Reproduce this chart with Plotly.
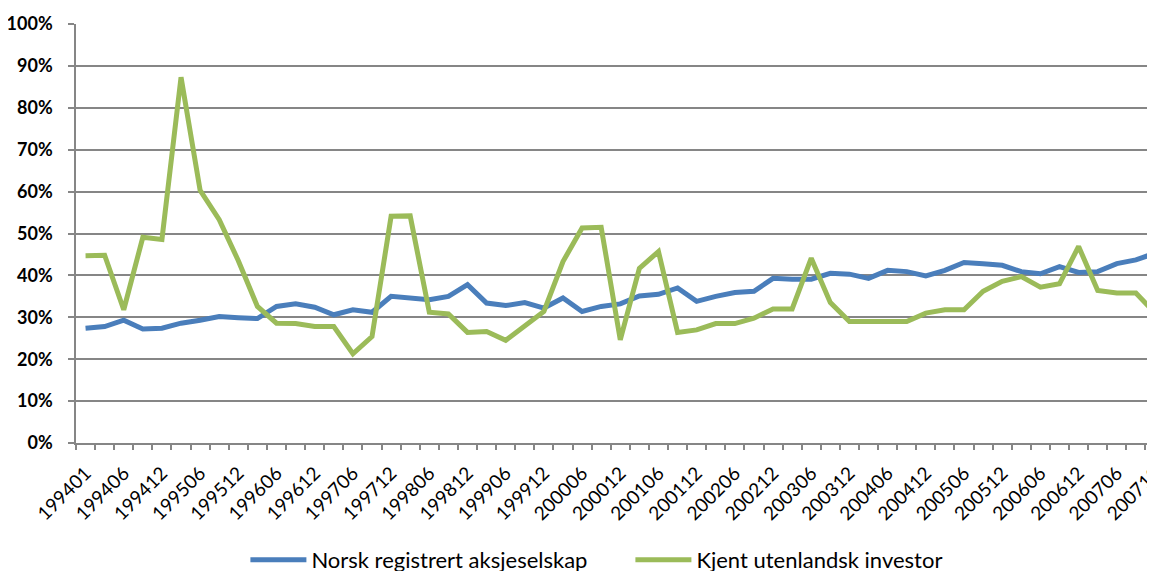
import plotly.graph_objects as go

# quarterly observation periods (first observation 199401)
periods = ["199401", "199403", "199406", "199409", "199412"]
for year in range(1995, 2008):
    for m in ["03", "06", "09", "12"]:
        periods.append(f"{year}{m}")

norsk = [27.4, 27.8, 29.3, 27.2, 27.4, 28.6, 29.3, 30.2, 29.9, 29.7,
         32.6, 33.2, 32.4, 30.6, 31.8, 31.2, 35.0, 34.7, 34.2, 35.0,
         37.8, 33.4, 32.8, 33.5, 32.2, 34.6, 31.4, 32.6, 33.2, 35.1,
         35.5, 37.0, 33.8, 35.0, 35.9, 36.2, 39.3, 39.1, 39.1, 40.5,
         40.3, 39.3, 41.2, 40.9, 39.9, 41.2, 43.1, 42.8, 42.4, 40.9,
         40.4, 42.1, 40.7, 40.9, 42.8, 43.7, 45.3]

utenlandsk = [44.7, 44.8, 31.8, 49.1, 48.6, 87.3, 60.3, 53.3, 43.5, 32.6,
              28.6, 28.5, 27.8, 27.8, 21.3, 25.4, 54.1, 54.2, 31.2, 30.8,
              26.4, 26.6, 24.5, 28.0, 31.4, 43.3, 51.3, 51.5, 24.6, 41.7,
              45.7, 26.4, 27.0, 28.5, 28.5, 29.8, 32.0, 32.0, 44.1, 33.5,
              29.0, 29.0, 29.0, 29.0, 31.0, 31.8, 31.8, 36.2, 38.6, 39.7,
              37.2, 38.0, 46.9, 36.4, 35.8, 35.8, 31.0]

tick_text = [p if i % 2 == 0 else "" for i, p in enumerate(periods)]

fig = go.Figure()
fig.add_trace(go.Scatter(x=periods, y=norsk, mode="lines",
                         name="Norsk registrert aksjeselskap",
                         line=dict(color="#4A7EBB", width=5)))
fig.add_trace(go.Scatter(x=periods, y=utenlandsk, mode="lines",
                         name="Kjent utenlandsk investor",
                         line=dict(color="#9BBB59", width=5)))

fig.update_layout(
    width=1155, height=571,
    margin=dict(l=68, r=8, t=16, b=136, autoexpand=False),
    paper_bgcolor="white", plot_bgcolor="white",
    font=dict(family="Lato, Arial, sans-serif", color="#000000"),
    showlegend=True,
    legend=dict(orientation="h", x=0.157, xanchor="left", y=-0.279, yanchor="middle",
                font=dict(size=22, color="#000000"), itemwidth=56,
                entrywidth=314, traceorder="normal"),
    xaxis=dict(type="category", range=[-0.5, 56.0], automargin=False,
               tickmode="array", tickvals=periods, ticktext=tick_text,
               tickson="boundaries", ticks="outside", ticklen=5,
               tickcolor="#868686", tickwidth=1.5,
               showline=True, linecolor="#868686", linewidth=1.5,
               showgrid=False, tickangle=-45, ticklabelstandoff=10,
               tickfont=dict(size=19, color="#000000")),
    yaxis=dict(range=[0, 100], dtick=10, ticksuffix="%", automargin=False,
               showgrid=True, gridcolor="#868686", gridwidth=1.5,
               showline=True, linecolor="#868686", linewidth=1.5,
               ticks="outside", ticklen=6, tickcolor="#868686", tickwidth=1.5,
               zeroline=False, ticklabelstandoff=12,
               tickfont=dict(size=18, color="#000000", family="Lato, Arial, sans-serif", weight="bold")),
)

fig.write_html("out.html")
